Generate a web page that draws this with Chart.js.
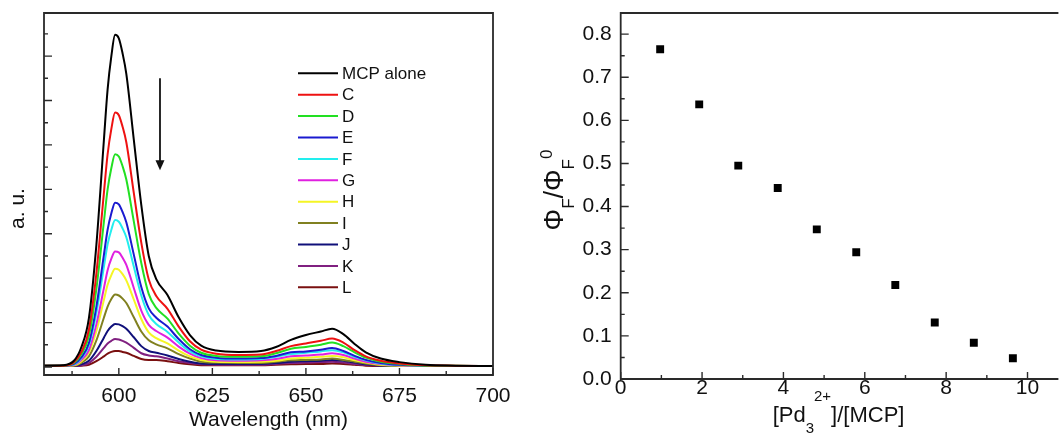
<!DOCTYPE html>
<html><head><meta charset="utf-8">
<script src="https://cdn.jsdelivr.net/npm/chart.js@4.4.1/dist/chart.umd.min.js"></script>
<style>
html,body{margin:0;padding:0;background:#fff;overflow:hidden;width:1062px;height:435px}
#w1{position:absolute;left:0;top:0;width:520px;height:435px}
#w2{position:absolute;left:520px;top:0;width:542px;height:435px}
</style></head><body>
<div id="w1"><canvas id="c1"></canvas></div>
<div id="w2"><canvas id="c2"></canvas></div>
<script>
// ---------- left panel: emission spectra ----------
const wavelengths = [580,585,588,590,592,594,596,597,598,599,600,601,602,604,606,608,610,613,616,619,622,626,632,638,642,646,650,654,657,660,663,666,670,675,682,690,700];
const seriesNames = ['MCP alone','C','D','E','F','G','H','I','J','K','L'];
const seriesColors = ['#000000','#ee1111','#22e022','#1a1ad0','#22eeee','#e020e0','#f5f525','#808020','#10107a','#802080','#7a1010'];
const mcpAlone = [3,4,14,45,110,275,510,625,700,748,740,706,660,512,365,250,198,162,112,72,48,37,34,36,45,61,72,80,86,74,52,33,19,11,5,3,2];
const seriesC  = [3,3,11,34,84,211,391,479,536,573,567,541,506,392,280,197,160,131,91,58,39,30,27,28,36,47,53,59,64,55,38,24,14,8,4,3,2];
const seriesD  = [3,3,9,29,70,176,326,400,448,479,474,452,422,328,234,164,133,109,75,48,32,25,23,24,31,41,45,50,55,47,33,21,12,7,3,3,2];
const seriesE  = [3,3,7,22,54,136,252,309,346,370,366,349,326,253,180,132,111,91,63,40,27,21,19,20,25,33,35,39,43,36,25,16,9,5,3,2,2];
const seriesF  = [3,3,6,20,49,122,225,276,309,331,327,312,292,226,161,117,97,79,55,35,24,18,17,18,23,29,32,35,38,33,23,15,8,5,3,2,2];
const seriesG  = [3,3,5,16,38,96,177,218,244,260,258,246,230,178,127,95,81,66,46,30,20,15,14,15,18,24,26,28,31,27,19,12,7,4,3,2,2];
const seriesH  = [3,3,4,13,33,81,151,185,207,221,219,209,195,152,108,78,65,53,37,24,16,12,11,12,14,19,21,23,25,22,15,10,5,3,2,2,2];
const seriesI  = [3,3,3,10,24,60,111,136,153,163,161,154,144,112,80,60,51,42,29,19,12,10,9,9,12,15,16,17,19,16,12,8,4,3,2,2,2];
const seriesJ  = [2,2,2,6,14,36,66,81,91,97,96,92,86,67,47,36,32,26,18,12,8,7,7,7,9,12,13,14,16,14,10,6,3,2,2,2,2];
const seriesK  = [2,2,2,4,9,23,43,53,59,63,62,59,55,43,31,26,24,19,13,9,6,5,5,5,7,9,10,11,12,10,7,5,3,2,2,2,2];
const seriesL  = [2,2,2,3,5,13,24,30,34,36,36,34,32,25,18,16,16,13,9,6,4,4,4,4,5,6,7,7,8,7,5,3,2,2,2,2,2];
const allSeries = [mcpAlone,seriesC,seriesD,seriesE,seriesF,seriesG,seriesH,seriesI,seriesJ,seriesK,seriesL];
const specXTicks = [600,625,650,675,700];
const specXMinor = [587.5,612.5,637.5,662.5,687.5];
const specYMajor = [0,100,200,300,400,500,600,700];
const specYMinor = [50,150,250,350,450,550,650,750];
const arrowAt = {x:611, yFrom:650, yTo:443};

// ---------- right panel: quantum yield ratio ----------
const ratioX = [0.97,1.93,2.89,3.86,4.82,5.79,6.75,7.72,8.68,9.64];
const phiRatio = [0.765,0.637,0.495,0.443,0.347,0.294,0.218,0.131,0.084,0.048];
const ratioXTicks = [0,2,4,6,8,10];
const ratioXMinor = [1,3,5,7,9];
const ratioYTicks = [0,0.1,0.2,0.3,0.4,0.5,0.6,0.7,0.8];
const ratioYMinor = [0.05,0.15,0.25,0.35,0.45,0.55,0.65,0.75];

const FONT = "'Liberation Sans', Arial, sans-serif";
Chart.defaults.font.family = FONT;
Chart.defaults.color = '#111';
Chart.defaults.animation = false;

function noPad(s) { s.paddingTop = 0; s.paddingBottom = 0; s.paddingLeft = 0; s.paddingRight = 0; }

const framePlugin = {
  id: 'frame',
  afterDatasetsDraw(chart, args, o) {
    const {ctx, chartArea: a, scales} = chart;
    ctx.save();
    ctx.strokeStyle = '#2a2a2a';
    ctx.lineWidth = 1.8;
    ctx.beginPath();
    if (o.right) {
      ctx.rect(a.left, a.top, a.right - a.left, a.bottom - a.top);
    } else {
      ctx.moveTo(a.right + 2, a.top); ctx.lineTo(a.left, a.top);
      ctx.lineTo(a.left, a.bottom); ctx.lineTo(a.right + 2, a.bottom);
    }
    ctx.stroke();
    ctx.lineWidth = 1.4;
    ctx.beginPath();
    const xs = scales.x, ys = scales.y;
    o.xMajor.forEach(v => { const p = xs.getPixelForValue(v); ctx.moveTo(p, a.bottom); ctx.lineTo(p, a.bottom - 7); });
    o.xMinor.forEach(v => { const p = xs.getPixelForValue(v); ctx.moveTo(p, a.bottom); ctx.lineTo(p, a.bottom - 4); });
    o.yMajor.forEach(v => { const p = ys.getPixelForValue(v); ctx.moveTo(a.left, p); ctx.lineTo(a.left + 8, p); });
    o.yMinor.forEach(v => { const p = ys.getPixelForValue(v); ctx.moveTo(a.left, p); ctx.lineTo(a.left + 4, p); });
    ctx.stroke();
    ctx.restore();
  }
};

const legendArrowPlugin = {
  id: 'legendArrow',
  afterDraw(chart) {
    const {ctx, scales, chartArea: a} = chart;
    ctx.save();
    // y title
    ctx.save();
    ctx.translate(18.5, 208.5);
    ctx.rotate(-Math.PI / 2);
    ctx.font = '21px ' + FONT;
    ctx.fillStyle = '#111';
    ctx.textAlign = 'center'; ctx.textBaseline = 'middle';
    ctx.fillText('a. u.', 0, 0);
    ctx.restore();
    // legend
    const lx = 298, ly = 73.3, step = 21.4;
    ctx.font = '17px ' + FONT;
    ctx.textBaseline = 'middle';
    ctx.textAlign = 'left';
    chart.data.datasets.forEach((ds, i) => {
      const y = ly + i * step;
      ctx.strokeStyle = ds.borderColor; ctx.lineWidth = 2;
      ctx.beginPath(); ctx.moveTo(lx, y); ctx.lineTo(lx + 40, y); ctx.stroke();
      ctx.fillStyle = '#111';
      ctx.fillText(ds.label, lx + 44, y + 1);
    });
    // arrow
    const ax = scales.x.getPixelForValue(arrowAt.x);
    const y1 = scales.y.getPixelForValue(arrowAt.yFrom);
    const y2 = scales.y.getPixelForValue(arrowAt.yTo);
    ctx.strokeStyle = '#111'; ctx.fillStyle = '#111'; ctx.lineWidth = 1.8;
    ctx.beginPath(); ctx.moveTo(ax, y1); ctx.lineTo(ax, y2 - 8); ctx.stroke();
    ctx.beginPath(); ctx.moveTo(ax - 4.5, y2 - 10); ctx.lineTo(ax + 4.5, y2 - 10); ctx.lineTo(ax, y2); ctx.closePath(); ctx.fill();
    ctx.restore();
  }
};

function drawRich(ctx, parts, size, small) {
  let w = 0;
  parts.forEach(p => { ctx.font = (p.s ? small : size) + 'px ' + FONT; p.w = ctx.measureText(p.t).width; w += p.w; });
  let x = -w / 2;
  parts.forEach(p => {
    ctx.font = (p.s ? small : size) + 'px ' + FONT;
    ctx.fillText(p.t, x, p.dy || 0);
    x += p.w;
  });
}

const richTitlesPlugin = {
  id: 'richTitles',
  afterDraw(chart) {
    const {ctx, chartArea: a} = chart;
    ctx.save();
    ctx.fillStyle = '#111';
    ctx.textBaseline = 'alphabetic';
    ctx.textAlign = 'left';
    // x title
    ctx.save();
    ctx.translate((a.left + a.right) / 2, 421.5);
    drawRich(ctx, [{t:'[Pd'},{t:'3',s:1,dy:11},{t:'2+',s:1,dy:-21},{t:']/[MCP]'}], 22, 15);
    ctx.restore();
    // y title
    ctx.save();
    ctx.translate(a.left - 57.5, 190);
    ctx.rotate(-Math.PI / 2);
    drawRich(ctx, [{t:'\u03A6'},{t:'F',s:1,dy:11},{t:'/\u03A6'},{t:'F',s:1,dy:11},{t:'0',s:1,dy:-11}], 27, 17);
    ctx.restore();
    ctx.restore();
  }
};

new Chart(document.getElementById('c1'), {
  type: 'line',
  data: {
    datasets: allSeries.map((s, i) => ({
      label: seriesNames[i],
      data: wavelengths.map((w, j) => ({x: w, y: s[j]})),
      borderColor: seriesColors[i],
      backgroundColor: seriesColors[i],
      borderWidth: 2,
      pointRadius: 0,
      cubicInterpolationMode: 'monotone',
      fill: false
    }))
  },
  options: {
    responsive: true, maintainAspectRatio: false,
    layout: {padding: {left: 0, right: 27, top: 13, bottom: 0}},
    plugins: {legend: {display: false}, tooltip: {enabled: false},
      frame: {right: true, xMajor: specXTicks, xMinor: specXMinor, yMajor: specYMajor, yMinor: specYMinor}},
    scales: {
      x: {
        type: 'linear', min: 580, max: 700,
        afterBuildTicks: s => { s.ticks = specXTicks.map(v => ({value: v})); },
        afterFit: s => { s.height = 60; noPad(s); },
        grid: {display: false, drawTicks: false},
        border: {display: false},
        ticks: {font: {size: 21}, padding: 9, maxRotation: 0, autoSkip: false},
        title: {display: true, text: 'Wavelength (nm)', font: {size: 21}, padding: {top: 2, bottom: 2}}
      },
      y: {
        type: 'linear', min: -18, max: 797,
        afterBuildTicks: s => { s.ticks = specYMajor.map(v => ({value: v})); },
        afterFit: s => { s.width = 44; noPad(s); },
        grid: {display: false, drawTicks: false},
        border: {display: false},
        ticks: {display: false}
      }
    }
  },
  plugins: [framePlugin, legendArrowPlugin]
});

new Chart(document.getElementById('c2'), {
  type: 'scatter',
  data: {
    datasets: [{
      label: 'ΦF/ΦF0',
      data: ratioX.map((x, i) => ({x: x, y: phiRatio[i]})),
      pointStyle: 'rect',
      pointRadius: 5.6,
      borderWidth: 0,
      backgroundColor: '#000',
      borderColor: '#000'
    }]
  },
  options: {
    responsive: true, maintainAspectRatio: false,
    layout: {padding: {left: 0, right: 0, top: 13, bottom: 0}},
    plugins: {legend: {display: false}, tooltip: {enabled: false},
      frame: {right: false, xMajor: ratioXTicks, xMinor: ratioXMinor, yMajor: ratioYTicks, yMinor: ratioYMinor}},
    scales: {
      x: {
        type: 'linear', min: 0, max: 10.71,
        afterBuildTicks: s => { s.ticks = ratioXTicks.map(v => ({value: v})); },
        afterFit: s => { s.height = 56; noPad(s); },
        grid: {display: false, drawTicks: false},
        border: {display: false},
        ticks: {font: {size: 21}, padding: -3, maxRotation: 0, autoSkip: false}
      },
      y: {
        type: 'linear', min: 0, max: 0.849,
        afterBuildTicks: s => { s.ticks = ratioYTicks.map(v => ({value: v})); },
        afterFit: s => { s.width = 100.7; noPad(s); },
        grid: {display: false, drawTicks: false},
        border: {display: false},
        ticks: {font: {size: 21}, padding: 9, callback: v => v.toFixed(1)}
      }
    }
  },
  plugins: [framePlugin, richTitlesPlugin]
});
</script>
</body></html>
